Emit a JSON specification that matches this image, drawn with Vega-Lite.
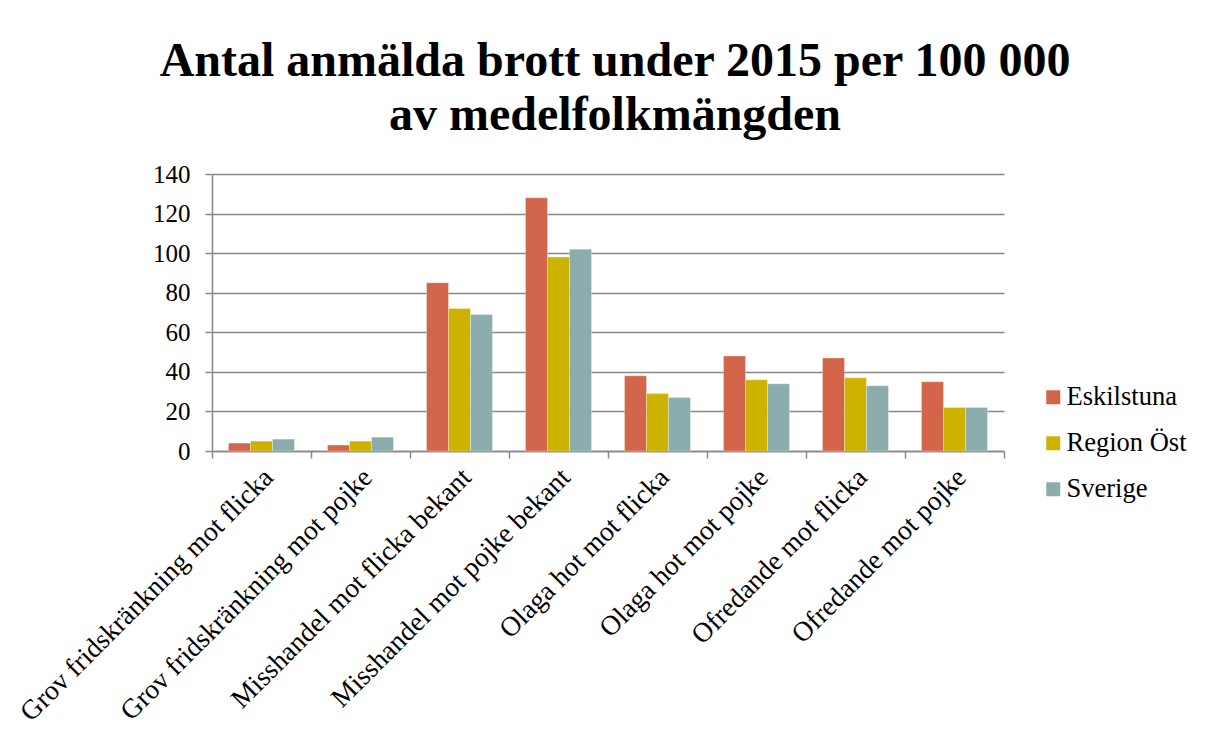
{
  "$schema": "https://vega.github.io/schema/vega-lite/v6.json",
  "width": 792,
  "height": 277,
  "autosize": {"type": "none"},
  "padding": {"left": 212, "top": 174, "right": 202, "bottom": 284},
  "background": "white",
  "config": {
    "view": {"stroke": null},
    "font": "Liberation Serif"
  },
  "title": {
    "text": ["Antal anmälda brott under 2015 per 100 000", "av medelfolkmängden"],
    "font": "Liberation Serif",
    "fontSize": 48,
    "fontWeight": "bold",
    "color": "#000000",
    "lineHeight": 54,
    "anchor": "middle",
    "dx": 7,
    "offset": 22
  },
  "data": {
    "values": [
      {"kategori": "Grov fridskränkning mot flicka", "område": "Eskilstuna", "värde": 4},
      {"kategori": "Grov fridskränkning mot flicka", "område": "Region Öst", "värde": 5},
      {"kategori": "Grov fridskränkning mot flicka", "område": "Sverige", "värde": 6},
      {"kategori": "Grov fridskränkning mot pojke", "område": "Eskilstuna", "värde": 3},
      {"kategori": "Grov fridskränkning mot pojke", "område": "Region Öst", "värde": 5},
      {"kategori": "Grov fridskränkning mot pojke", "område": "Sverige", "värde": 7},
      {"kategori": "Misshandel mot flicka bekant", "område": "Eskilstuna", "värde": 85},
      {"kategori": "Misshandel mot flicka bekant", "område": "Region Öst", "värde": 72},
      {"kategori": "Misshandel mot flicka bekant", "område": "Sverige", "värde": 69},
      {"kategori": "Misshandel mot pojke bekant", "område": "Eskilstuna", "värde": 128},
      {"kategori": "Misshandel mot pojke bekant", "område": "Region Öst", "värde": 98},
      {"kategori": "Misshandel mot pojke bekant", "område": "Sverige", "värde": 102},
      {"kategori": "Olaga hot mot flicka", "område": "Eskilstuna", "värde": 38},
      {"kategori": "Olaga hot mot flicka", "område": "Region Öst", "värde": 29},
      {"kategori": "Olaga hot mot flicka", "område": "Sverige", "värde": 27},
      {"kategori": "Olaga hot mot pojke", "område": "Eskilstuna", "värde": 48},
      {"kategori": "Olaga hot mot pojke", "område": "Region Öst", "värde": 36},
      {"kategori": "Olaga hot mot pojke", "område": "Sverige", "värde": 34},
      {"kategori": "Ofredande mot flicka", "område": "Eskilstuna", "värde": 47},
      {"kategori": "Ofredande mot flicka", "område": "Region Öst", "värde": 37},
      {"kategori": "Ofredande mot flicka", "område": "Sverige", "värde": 33},
      {"kategori": "Ofredande mot pojke", "område": "Eskilstuna", "värde": 35},
      {"kategori": "Ofredande mot pojke", "område": "Region Öst", "värde": 22},
      {"kategori": "Ofredande mot pojke", "område": "Sverige", "värde": 22}
    ]
  },
  "mark": {"type": "bar", "stroke": "white", "strokeWidth": 0.5, "strokeOpacity": 0.6},
  "encoding": {
    "x": {
      "field": "kategori",
      "type": "nominal",
      "sort": null,
      "title": null,
      "scale": {"paddingInner": 0, "paddingOuter": 0},
      "axis": {
        "domainColor": "#888888",
        "domainWidth": 1.5,
        "tickColor": "#888888",
        "tickWidth": 1.5,
        "tickSize": 7,
        "tickBand": "extent",
        "labelAngle": -45,
        "labelAlign": "right",
        "labelBaseline": "middle",
        "labelFont": "Liberation Serif",
        "labelFontSize": 27.5,
        "labelColor": "#000000",
        "labelPadding": 15,
        "labelOffset": 7,
        "labelLimit": 0,
        "labelOverlap": false
      }
    },
    "xOffset": {
      "field": "område",
      "type": "nominal",
      "sort": ["Eskilstuna", "Region Öst", "Sverige"],
      "scale": {"paddingInner": 0, "paddingOuter": 0.75}
    },
    "y": {
      "field": "värde",
      "type": "quantitative",
      "title": null,
      "scale": {"domain": [0, 140], "nice": false},
      "axis": {
        "values": [0, 20, 40, 60, 80, 100, 120, 140],
        "grid": true,
        "gridColor": "#888888",
        "gridWidth": 1.5,
        "domainColor": "#888888",
        "domainWidth": 1.5,
        "tickColor": "#888888",
        "tickWidth": 1.5,
        "tickSize": 7,
        "labelFont": "Liberation Serif",
        "labelFontSize": 25,
        "labelColor": "#000000",
        "labelPadding": 15
      }
    },
    "color": {
      "field": "område",
      "type": "nominal",
      "sort": ["Eskilstuna", "Region Öst", "Sverige"],
      "scale": {
        "domain": ["Eskilstuna", "Region Öst", "Sverige"],
        "range": ["#D3654B", "#CDB300", "#8CADAE"]
      },
      "legend": {
        "title": null,
        "orient": "none",
        "legendX": 828,
        "legendY": 210,
        "padding": 0,
        "symbolType": "square",
        "symbolSize": 196,
        "symbolStrokeWidth": 0,
        "symbolOpacity": 1,
        "labelFont": "Liberation Serif",
        "labelFontSize": 26.5,
        "labelColor": "#000000",
        "labelOffset": 0,
        "rowPadding": 19
      }
    }
  }
}
